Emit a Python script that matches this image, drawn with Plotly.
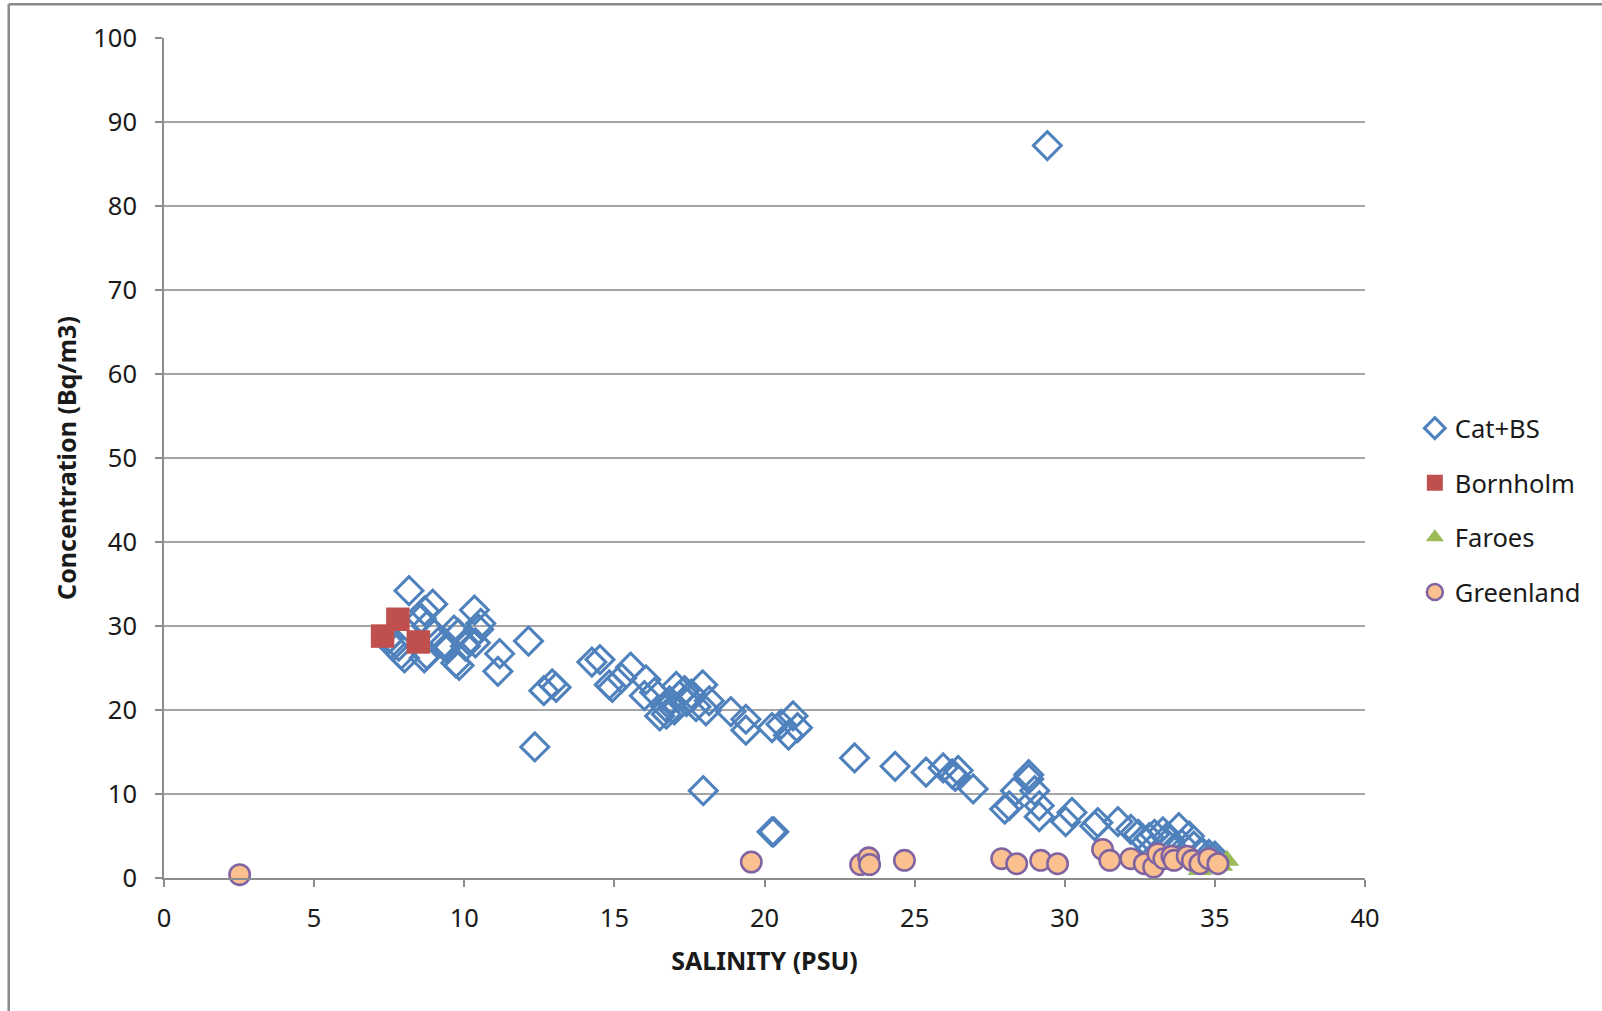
import plotly.graph_objects as go

# ---- data ----
cat_x = [8.16, 8.95, 8.68, 8.57, 8.75, 10.34, 10.55, 10.48, 9.66, 9.8, 10.15, 10.37, 10.04,
         9.39, 9.35, 9.72, 9.83, 8.01, 7.9, 8.67, 8.75, 7.63, 7.82, 7.5, 11.18, 11.12, 12.14,
         12.35, 9.0,
         12.65, 12.93, 13.06, 14.25, 14.52, 14.83, 14.93, 15.24, 15.54,
         16.05, 16.0, 16.34, 16.51, 16.73, 16.84, 17.06, 17.17, 17.34, 17.56, 17.94, 17.72,
         18.05, 18.16, 16.7, 17.0, 17.4, 18.88, 19.38, 19.38, 20.25, 20.55, 20.95, 20.8, 21.1,
         17.96, 20.31, 20.25,
         23.0, 24.35, 25.38, 25.95, 26.25, 26.45, 26.35, 26.95, 28.0, 28.15, 28.36, 28.8,
         28.8, 29.0, 29.15, 29.15, 30.03, 30.24, 29.42,
         31.0, 31.1, 31.77, 32.2, 32.45, 32.6, 32.82, 32.99, 33.27, 33.4, 33.5, 33.8, 34.15,
         34.3, 33.9, 34.8, 35.0, 34.6]
cat_y = [34.2, 32.6, 31.8, 30.9, 30.0, 31.9, 30.3, 29.6, 29.5, 29.1, 28.3, 28.0, 27.6,
         27.4, 28.0, 25.6, 25.3, 26.2, 26.6, 26.2, 26.6, 27.6, 27.6, 28.5, 26.7, 24.6, 28.2,
         15.6, 29.0,
         22.3, 23.1, 22.7, 25.7, 26.0, 23.0, 22.7, 23.8, 25.1,
         23.6, 21.7, 22.1, 19.3, 19.5, 21.1, 22.8, 21.7, 22.3, 21.9, 23.0, 20.4,
         19.9, 21.1, 20.4, 20.0, 21.0, 19.8, 18.9, 17.6, 17.9, 18.3, 19.3, 17.0, 17.9,
         10.4, 5.5, 5.5,
         14.3, 13.3, 12.6, 13.1, 12.4, 12.8, 12.1, 10.6, 8.2, 8.6, 10.4, 12.3,
         11.8, 10.4, 8.6, 7.3, 6.7, 7.8, 87.2,
         6.2, 6.6, 6.7, 5.8, 5.2, 4.6, 4.8, 5.2, 5.5, 4.8, 4.5, 6.0, 5.0,
         3.8, 4.0, 2.8, 2.6, 3.0]

born_x = [7.28, 7.79, 8.47]
born_y = [28.8, 30.8, 28.1]

far_x = [34.5, 34.9, 35.4, 35.2]
far_y = [1.0, 1.3, 2.1, 1.5]

green_x = [2.52, 19.56, 23.2, 23.47, 23.5, 24.66, 27.9, 28.4, 29.2, 29.76, 31.26, 31.5,
           32.2, 32.65, 32.96, 33.1, 33.3, 33.57, 33.64, 34.08, 34.25, 34.5, 34.8, 35.1]
green_y = [0.4, 1.9, 1.6, 2.4, 1.6, 2.1, 2.3, 1.7, 2.1, 1.7, 3.4, 2.1,
           2.3, 1.7, 1.3, 2.9, 2.3, 2.6, 2.1, 2.6, 2.1, 1.7, 2.3, 1.7]

x_ticks = [0, 5, 10, 15, 20, 25, 30, 35, 40]
y_ticks = [0, 10, 20, 30, 40, 50, 60, 70, 80, 90, 100]

FONT = "Noto Sans"
K = 1.0215  # compensate the capture scale
TXT = "#1a1a1a"

fig = go.Figure()
fig.add_trace(go.Scatter(
    x=cat_x, y=cat_y, mode="markers", name="Cat+BS", legendgroup="a",
    marker=dict(symbol="diamond-open", size=21 * K, color="#4F81BD",
                line=dict(width=3 * K, color="#4F81BD")),
    cliponaxis=False))
fig.add_trace(go.Scatter(
    x=born_x, y=born_y, mode="markers", name="Bornholm", legendgroup="b",
    marker=dict(symbol="square", size=23 * K, color="#C0504D", line=dict(width=0)),
    cliponaxis=False))
fig.add_trace(go.Scatter(
    x=far_x, y=far_y, mode="markers", name="Faroes", legendgroup="c",
    marker=dict(symbol="triangle-up", size=21 * K, color="#9BBB59", line=dict(width=0)),
    cliponaxis=False))
fig.add_trace(go.Scatter(
    x=green_x, y=green_y, mode="markers", name="Greenland", legendgroup="d",
    marker=dict(symbol="circle", size=20 * K, color="#FAC090",
                line=dict(width=2.5 * K, color="#8064A2")),
    cliponaxis=False))

fig.update_layout(
    width=round(1602 * K), height=round(1011 * K),
    margin=dict(l=161 * K, r=265 * K, t=37 * K, b=152 * K),
    paper_bgcolor="white", plot_bgcolor="white",
    font=dict(family=FONT, size=25 * K, color=TXT),
    showlegend=True,
    legend=dict(x=1.0415, y=0.438, xanchor="left", yanchor="middle",
                traceorder="grouped", tracegroupgap=18 * K,
                font=dict(family=FONT, size=25 * K, color=TXT),
                itemsizing="trace", itemwidth=30, bgcolor="rgba(0,0,0,0)"),
    xaxis=dict(range=[0, 40], tickvals=x_ticks, ticktext=[str(v) for v in x_ticks],
               showgrid=False, zeroline=False, showline=True, linecolor="#8c8c8c", linewidth=1.5,
               ticks="outside", ticklen=7 * K, tickcolor="#8c8c8c", tickwidth=1.5,
               ticklabelstandoff=9,
               tickfont=dict(family=FONT, size=25 * K, color=TXT),
               title=dict(text="<b>SALINITY (PSU)</b>", font=dict(family=FONT, size=24.5 * K, color=TXT),
                          standoff=20 * K)),
    yaxis=dict(range=[0, 100], tickvals=y_ticks, ticktext=[str(v) for v in y_ticks],
               showgrid=True, gridcolor="#a6a6a6", gridwidth=1.5,
               zeroline=False, showline=True, linecolor="#8c8c8c", linewidth=1.5,
               ticks="outside", ticklen=7 * K, tickcolor="#8c8c8c", tickwidth=1.5,
               ticklabelstandoff=13,
               tickfont=dict(family=FONT, size=25 * K, color=TXT),
               title=dict(text="<b>Concentration (Bq/m3)</b>", font=dict(family=FONT, size=24.5 * K, color=TXT),
                          standoff=9 * K)),
)

# chart frame (left and top edges visible)
fig.add_shape(type="line", xref="paper", yref="paper", x0=-0.1293, x1=-0.1293, y0=-0.19, y1=1.0401,
              line=dict(color="#8a8a8a", width=2.5))
fig.add_shape(type="line", xref="paper", yref="paper", x0=-0.1293, x1=1.3, y0=1.0401, y1=1.0401,
              line=dict(color="#8a8a8a", width=2.5))

fig.write_html("out.html", config={"displayModeBar": False},
               post_script="document.body.style.margin='0';document.body.style.overflow='hidden';")
